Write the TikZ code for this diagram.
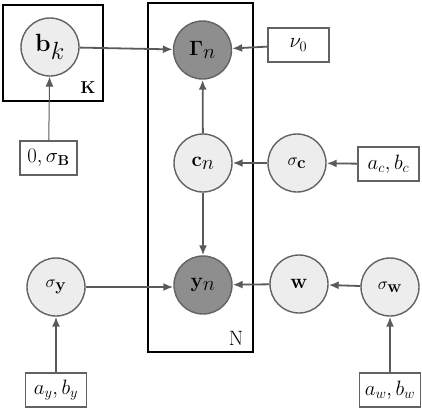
\documentclass[tikz,border=0pt]{standalone}
\usepackage{amsmath,bm}
\usetikzlibrary{arrows.meta}
\definecolor{latfill}{HTML}{EDEDED}
\definecolor{obsfill}{HTML}{8E8E8E}
\definecolor{edgecol}{HTML}{5A5A5A}
\definecolor{bordcol}{HTML}{626262}
\tikzset{
  latent/.style={circle, draw=bordcol, line width=1.4pt, fill=latfill, minimum size=58pt, inner sep=0pt, font=\huge},
  smalllat/.style={latent, font=\LARGE},
  observed/.style={latent, fill=obsfill},
  parbox/.style={rectangle, draw=bordcol, line width=1.5pt, fill=white, minimum width=61pt, minimum height=34pt, inner sep=0pt, font=\huge},
  plate/.style={draw=black, line width=2.5pt},
  edge/.style={draw=edgecol, line width=1.8pt, -{Latex[length=10pt,width=8pt]}},
  thinedge/.style={edge, line width=1pt},
  platelabel/.style={font=\LARGE, inner sep=0pt}
}
\begin{document}
\begin{tikzpicture}[x=1pt,y=-1pt]
\useasboundingbox (0,0) rectangle (422,408);
% plates
\draw[plate] (3,5) rectangle (103,101);
\draw[plate] (148,3) rectangle (253,352);
\node[platelabel] (Klab) at (88,88) {$\mathbf{K}$};
\node[platelabel, font=\huge] (Nlab) at (236,338) {N};
% nodes
\node[latent, font=\Huge] (bk) at (50,47) {$\mathbf{b}_{\textstyle k}$};
\node[observed] (G) at (202.5,50) {$\bm{\Gamma}_{\textstyle n}$};
\node[parbox] (nu) at (298.5,45) {$\nu_0$};
\node[latent] (cn) at (203,163) {$\mathbf{c}_{\textstyle n}$};
\node[smalllat] (sc) at (297,163) {$\sigma_{\textstyle\mathbf{c}}$};
\node[parbox] (acbc) at (388.5,164) {$a_c,b_c$};
\node[parbox, minimum width=57pt] (sB) at (48.5,158) {$0,\sigma_{\mathbf{B}}$};
\node[observed] (yn) at (203,285) {$\mathbf{y}_{\textstyle n}$};
\node[smalllat] (sy) at (56,287) {$\sigma_{\textstyle\mathbf{y}}$};
\node[parbox] (ay) at (56,390) {$a_y,b_y$};
\node[latent] (w) at (299,284) {$\mathbf{w}$};
\node[smalllat] (sw) at (390,287) {$\sigma_{\textstyle\mathbf{w}}$};
\node[parbox] (aw) at (390,390) {$a_w,b_w$};
% edges
\draw[edge] (bk) -- (G);
\draw[edge] (nu) -- (G);
\draw[edge] (cn) -- (G);
\draw[edge] (cn) -- (yn);
\draw[edge] (sc) -- (cn);
\draw[edge] (acbc) -- (sc);
\draw[thinedge] (sB) -- (bk);
\draw[edge] (sy) -- (sy -| yn.west);
\draw[edge] (ay) -- (sy);
\draw[edge] (w) -- (yn);
\draw[edge] (sw) -- (w);
\draw[edge] (aw) -- (sw);
\end{tikzpicture}
\end{document}
